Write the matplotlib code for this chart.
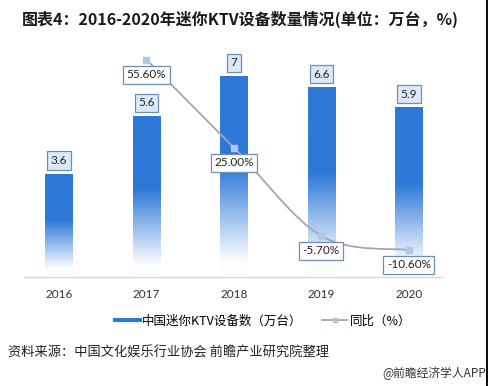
import numpy as np
import matplotlib
matplotlib.use("Agg")
import matplotlib.pyplot as plt
from matplotlib.path import Path
from matplotlib.patches import PathPatch
from matplotlib.colors import LinearSegmentedColormap
from matplotlib.lines import Line2D

plt.rcParams['font.family'] = ['Noto Sans CJK SC', 'DejaVu Sans']

years = ["2016", "2017", "2018", "2019", "2020"]
devices = [3.6, 5.6, 7.0, 6.6, 5.9]
yoy_years = ["2017", "2018", "2019", "2020"]
yoy = [55.6, 25.0, -5.7, -10.6]
device_labels = ["3.6", "5.6", "7", "6.6", "5.9"]
yoy_labels = ["55.60%", "25.00%", "-5.70%", "-10.60%"]

title = "图表4：2016-2020年迷你KTV设备数量情况(单位：万台，%)"
legend_bar = "中国迷你KTV设备数（万台）"
legend_line = "同比（%）"
source = "资料来源：中国文化娱乐行业协会 前瞻产业研究院整理"
watermark = "@前瞻经济学人APP"

BLUE = "#2e78d8"
fig = plt.figure(figsize=(4.88, 3.86), dpi=100)
ax = fig.add_axes([24/488, 1-277/386, (442-24)/488, 230/386])
x = np.arange(len(years))
bars = ax.bar(x, devices, width=0.31, color="none", edgecolor="none", zorder=2)

cmap = LinearSegmentedColormap.from_list("g", [(0, "#ffffff"), (0.08, "#fbfdff"), (0.55, BLUE), (1, BLUE)])
for b in bars:
    bx, bw, bh = b.get_x(), b.get_width(), b.get_height()
    grad = np.linspace(0, 1, 256).reshape(-1, 1)
    im = ax.imshow(grad, extent=(bx, bx + bw, 0, bh), origin="lower", cmap=cmap,
                   aspect="auto", zorder=2, interpolation="bicubic")
    im.set_clip_path(b)
ax.set_xlim(-0.4, 4.38)
ax.set_ylim(0, 8)

for s in ["top", "left", "right"]:
    ax.spines[s].set_visible(False)
ax.spines["bottom"].set_color("#d9d9d9")
ax.spines["bottom"].set_linewidth(1)
ax.set_yticks([])
ax.set_xticks(x)
ax.set_xticklabels(years, fontsize=8.5, color="#333333", family=["Lato", "DejaVu Sans"])
ax.tick_params(axis="x", length=0, pad=9)

for xi, v, lab in zip(x, devices, device_labels):
    ax.annotate(lab, (xi, v), xytext=(0, 13), textcoords="offset pixels",
                ha="center", va="center", fontsize=8.5, color="#222222", family=["Lato", "DejaVu Sans"],
                bbox=dict(boxstyle="square,pad=0.3", fc="#dce9f8", ec="#6e8fb5", lw=0.9), zorder=5)

ax2 = ax.twinx()
ax2.set_ylim(-20, 60)
ax2.axis("off")
lx = np.array([years.index(y) for y in yoy_years], dtype=float)
ly = np.array(yoy, dtype=float)
# smoothed line (Excel-like bezier smoothing through the data points)
verts = [(lx[0], ly[0])]
codes = [Path.MOVETO]
n = len(lx)
for i in range(n - 1):
    p0 = (lx[max(i-1, 0)], ly[max(i-1, 0)])
    p1 = (lx[i], ly[i]); p2 = (lx[i+1], ly[i+1])
    p3 = (lx[min(i+2, n-1)], ly[min(i+2, n-1)])
    c1 = (p1[0] + (p2[0]-p0[0])/6, p1[1] + (p2[1]-p0[1])/6)
    c2 = (p2[0] - (p3[0]-p1[0])/6, p2[1] - (p3[1]-p1[1])/6)
    verts += [c1, c2, p2]
    codes += [Path.CURVE4]*3
ax2.add_patch(PathPatch(Path(verts, codes), fc="none", ec="#a6a6a6", lw=1.3, zorder=3))
ax2.plot(lx, ly, ls="none", marker="s", ms=4, mfc="#a9c8ea", mec="#a9c8ea", zorder=4)
for xi, v, lab in zip(lx, ly, yoy_labels):
    ax2.annotate(lab, (xi, v), xytext=(0, -15), textcoords="offset pixels",
                 ha="center", va="center", fontsize=8.5, color="#222222", family=["Lato", "DejaVu Sans"],
                 bbox=dict(boxstyle="square,pad=0.3", fc="white", ec="#6e8fb5", lw=0.9), zorder=6)

handles = [Line2D([], [], color=BLUE, lw=3),
           Line2D([], [], color="#a6a6a6", lw=1.3, marker="s", ms=3.5, mfc="#a9c8ea", mec="#a9c8ea")]
fig.legend(handles, [legend_bar, legend_line], loc="center", bbox_to_anchor=(263/488, 1-321/386),
           ncol=2, frameon=False, fontsize=9, handlelength=2.0, handletextpad=0.2, columnspacing=1.6)

fig.text(22/488, 1-19/386, title, fontsize=11.5, fontweight="heavy", color="#1a1a1a", va="center", ha="left")
fig.text(8/488, 1-353/386, source, fontsize=9.5, color="#222222", va="center", ha="left")
fig.text(486/488, 1-373/386, watermark, fontsize=8.5, color="#333333", va="center", ha="right")
fig.add_artist(Line2D([486.5/488, 486.5/488], [0, 1], color="#111111", lw=1.5, transform=fig.transFigure))

fig.savefig("out.png", dpi=100, facecolor="white")
